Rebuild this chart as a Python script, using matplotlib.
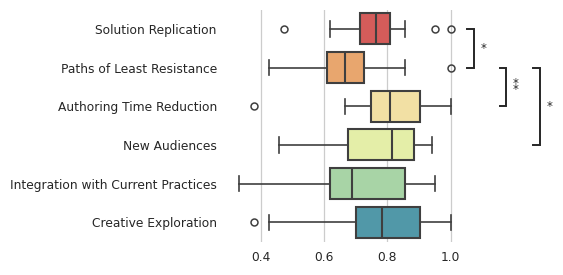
import matplotlib
matplotlib.use("Agg")
import matplotlib.pyplot as plt

categories = ["Solution Replication", "Paths of Least Resistance", "Authoring Time Reduction",
              "New Audiences", "Integration with Current Practices", "Creative Exploration"]
whislo = [0.62, 0.427, 0.668, 0.457, 0.332, 0.427]
q1 = [0.715, 0.609, 0.75, 0.677, 0.62, 0.70]
med = [0.763, 0.668, 0.81, 0.815, 0.69, 0.785]
q3 = [0.81, 0.728, 0.905, 0.886, 0.857, 0.905]
whishi = [0.857, 0.857, 1.0, 0.943, 0.952, 1.0]
fliers = [[0.475, 0.952, 1.0], [1.0], [0.379], [], [], [0.379]]
colors = ["#d45c5a", "#e8a66e", "#f2e0a4", "#e4eea8", "#a8d4a6", "#5198a8"]
xticks = [0.4, 0.6, 0.8, 1.0]
# significance brackets: (row_a, row_b, label)
sig = [(0, 1, "*"), (1, 2, "*\n*"), (1, 3, "*")]

fig = plt.figure(figsize=(5.63, 2.75), dpi=100)
ax = fig.add_axes([0.406, 0.1215, 0.413, 0.8435])

stats = []
for i in range(len(categories)):
    stats.append(dict(whislo=whislo[i], q1=q1[i], med=med[i], q3=q3[i], whishi=whishi[i],
                      fliers=fliers[i], label=categories[i]))
pos = list(range(len(categories)))
edge = "#3f3f3f"
bp = ax.bxp(stats, positions=pos, vert=False, widths=0.8, patch_artist=True,
            boxprops=dict(edgecolor=edge, linewidth=1.5),
            medianprops=dict(color=edge, linewidth=1.5),
            whiskerprops=dict(color=edge, linewidth=1.2),
            capprops=dict(color=edge, linewidth=1.2),
            flierprops=dict(marker="o", markerfacecolor="none", markeredgecolor=edge,
                            markersize=5, markeredgewidth=1.1),
            capwidths=0.4)
for patch, c in zip(bp["boxes"], colors):
    patch.set_facecolor(c)

ax.set_ylim(len(categories) - 0.5, -0.5)
ax.set_xlim(0.2986, 1.0334)
ax.set_xticks(xticks)
ax.set_xticklabels([f"{t:.1f}" for t in xticks])
ax.set_yticks(pos)
ax.set_yticklabels(categories)
ax.tick_params(axis="both", length=0, labelsize=8.8, colors="#262626")
ax.tick_params(axis="y", pad=8.5)
ax.tick_params(axis="x", pad=7)
ax.grid(axis="x", color="#cccccc", linewidth=0.9)
ax.set_axisbelow(True)
for s in ax.spines.values():
    s.set_visible(False)

bx = [1.073, 1.176, 1.282]
for (a, b, lab), x in zip(sig, bx):
    ax.plot([x - 0.02, x, x, x - 0.02], [a, a, b, b], color="#262626", lw=1.4,
            clip_on=False, solid_joinstyle="miter")
    ax.text(x + 0.03, (a + b) / 2, lab, ha="center", va="center", fontsize=8.5,
            color="#262626", linespacing=0.3)

fig.savefig("out.png", dpi=100)
